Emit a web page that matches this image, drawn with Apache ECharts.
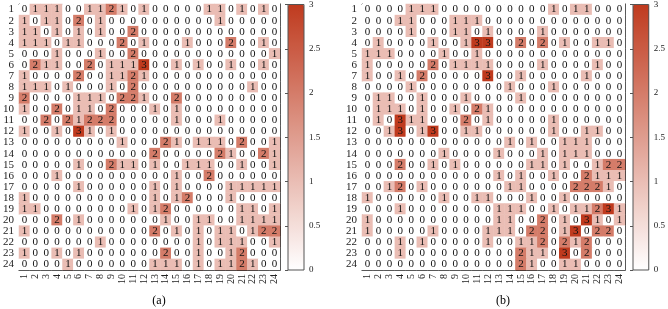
<!DOCTYPE html>
<html>
<head>
<meta charset="utf-8">
<script src="https://cdn.jsdelivr.net/npm/echarts@6/dist/echarts.min.js"></script>
<style>
  html, body { margin: 0; padding: 0; background: #fff; }
  #chart { width: 668px; height: 309px; }
</style>
</head>
<body>
<div id="chart"></div>
<script>
// tick labels for both axes of the two matrices
let cats = ['1','2','3','4','5','6','7','8','9','10','11','12','13','14','15','16','17','18','19','20','21','22','23','24'];

// (a) counts, row by row (row 1 at the top)
let countsA = [
    [0,1,1,1,0,0,1,1,2,1,0,1,0,0,0,0,0,1,1,0,1,0,1,0],
    [1,0,1,1,0,2,0,1,0,0,0,0,0,0,0,0,0,0,1,0,0,0,0,0],
    [1,1,0,1,0,1,0,1,0,0,2,0,0,0,0,0,0,0,0,0,0,0,0,0],
    [1,1,1,0,1,1,0,0,0,2,0,1,0,0,0,1,0,0,0,2,0,0,1,0],
    [0,0,0,1,0,0,0,1,0,0,2,0,0,0,0,0,0,0,0,0,0,0,0,1],
    [0,2,1,1,0,0,2,0,1,1,1,3,0,0,1,0,1,0,0,1,0,0,1,0],
    [1,0,0,0,0,2,0,0,1,1,2,1,0,0,0,0,0,0,0,0,0,0,0,0],
    [1,1,1,0,1,0,0,0,1,0,2,0,0,0,0,0,0,0,0,0,0,1,0,0],
    [2,0,0,0,0,1,1,1,0,2,2,1,0,0,2,0,0,0,0,0,0,0,0,0],
    [1,0,0,2,0,1,1,0,2,0,0,0,1,0,1,0,0,0,0,0,0,0,0,0],
    [0,0,2,0,2,1,2,2,2,0,0,0,0,0,1,0,0,0,1,0,0,0,0,0],
    [1,0,0,1,0,3,1,0,1,0,0,0,0,0,0,0,0,0,0,0,0,0,0,0],
    [0,0,0,0,0,0,0,0,0,1,0,0,0,2,1,0,1,1,1,0,2,0,0,1],
    [0,0,0,0,0,0,0,0,0,0,0,0,2,0,0,0,0,0,2,1,0,0,2,1],
    [0,0,0,0,0,1,0,0,2,1,1,0,1,0,0,1,1,1,0,0,1,0,0,1],
    [0,0,0,1,0,0,0,0,0,0,0,0,0,0,1,0,0,2,0,0,0,0,0,0],
    [0,0,0,0,0,1,0,0,0,0,0,0,1,0,1,0,0,0,0,1,1,1,1,1],
    [1,0,0,0,0,0,0,0,0,0,0,0,1,0,1,2,0,0,0,1,0,0,0,0],
    [1,1,0,0,0,0,0,0,0,0,1,0,1,2,0,0,0,0,0,0,1,1,0,1],
    [0,0,0,2,0,1,0,0,0,0,0,0,0,1,0,0,1,1,0,0,1,1,1,1],
    [1,0,0,0,0,0,0,0,0,0,0,0,2,0,1,0,1,0,1,1,0,1,2,2],
    [0,0,0,0,0,0,0,1,0,0,0,0,0,0,0,0,1,0,1,1,1,0,0,1],
    [1,0,0,1,0,1,0,0,0,0,0,0,0,2,0,0,1,0,0,1,2,0,0,0],
    [0,0,0,0,1,0,0,0,0,0,0,0,1,1,1,0,1,0,1,1,2,1,0,0]
];

// (b) counts
let countsB = [
    [0,0,0,0,1,1,1,0,0,0,0,0,0,0,0,0,0,1,0,1,1,0,0,0],
    [0,0,0,1,1,0,0,0,1,1,1,0,0,0,0,0,0,0,0,0,0,0,0,0],
    [0,0,0,0,1,0,0,0,1,1,0,1,0,0,0,0,1,0,0,0,0,0,0,0],
    [0,1,0,0,0,0,1,0,0,1,3,3,0,0,2,0,2,0,1,0,0,1,1,0],
    [1,1,1,0,0,0,0,1,0,0,1,0,0,0,0,0,0,0,0,0,0,0,0,0],
    [1,0,0,0,0,0,2,0,1,1,1,1,0,0,0,0,1,0,0,0,0,1,0,0],
    [1,0,0,1,0,2,0,0,0,0,0,3,0,0,1,0,0,0,0,0,1,0,0,0],
    [0,0,0,0,1,0,0,0,0,0,0,0,0,1,0,0,0,1,0,0,0,0,0,0],
    [0,1,1,0,0,1,0,0,0,1,0,0,0,0,1,0,0,0,0,0,0,0,0,0],
    [0,1,1,1,0,1,0,0,1,0,2,1,0,0,0,0,0,0,0,0,0,0,0,0],
    [0,1,0,3,1,1,0,0,0,2,0,1,0,0,0,0,0,1,0,0,0,0,0,0],
    [0,0,1,3,0,1,3,0,0,1,1,0,0,0,0,0,0,1,0,0,1,1,0,0],
    [0,0,0,0,0,0,0,0,0,0,0,0,0,1,0,1,0,0,1,1,1,0,0,0],
    [0,0,0,0,0,0,0,1,0,0,0,0,1,0,0,0,1,0,1,1,1,0,0,0],
    [0,0,0,2,0,0,1,0,1,0,0,0,0,0,0,1,1,0,1,0,0,1,2,2],
    [0,0,0,0,0,0,0,0,0,0,0,0,1,0,1,0,0,1,0,0,2,1,1,1],
    [0,0,1,2,0,1,0,0,0,0,0,0,0,1,1,0,0,0,0,2,2,2,1,0],
    [1,0,0,0,0,0,0,1,0,0,1,1,0,0,0,1,0,0,1,0,0,0,0,0],
    [0,0,0,1,0,0,0,0,0,0,0,0,1,1,1,0,0,1,0,1,1,2,3,1],
    [1,0,0,0,0,0,0,0,0,0,0,0,1,1,0,0,2,0,1,0,3,1,0,1],
    [1,0,0,0,0,0,1,0,0,0,0,1,1,1,0,2,2,0,1,3,0,2,2,0],
    [0,0,0,1,0,1,0,0,0,0,0,1,0,0,1,1,2,0,2,1,2,0,0,0],
    [0,0,0,1,0,0,0,0,0,0,0,0,0,0,2,1,1,0,3,0,2,0,0,0],
    [0,0,0,0,0,0,0,0,0,0,0,0,0,0,2,1,0,0,1,1,0,0,0,0]
];

let serif = 'Liberation Serif';
let ink = '#222';
let lowColor = '#ffffff';
let highColor = '#bf3a1e';

let toCells = rows => {
    let out = [];
    rows.forEach((row, r) => row.forEach((v, c) => out.push([c, r, v])));
    return out;
};

let mapLeft = [17, 362];      // left edge of each matrix
let barLeft = [288, 633];     // left edge of each colour bar
let gridTop = 4, side = 263, tall = 266;

let grids = [], xAxes = [], yAxes = [], series = [], visualMaps = [];

mapLeft.forEach((left, i) => {
    grids.push({ left: left, top: gridTop, width: side, height: tall });
    let base = {
        type: 'category', data: cats, gridIndex: i,
        axisLine: { show: true, lineStyle: { color: ink, width: 1 } },
        axisTick: { show: true, inside: true, alignWithLabel: true, interval: 0, length: 3, lineStyle: { color: ink } },
        splitLine: { show: false }, splitArea: { show: false }
    };
    xAxes.push(Object.assign({}, base, {
        position: 'bottom',
        axisLabel: { interval: 0, rotate: 90, fontSize: 10, fontFamily: serif, color: ink, margin: 4 }
    }));
    xAxes.push(Object.assign({}, base, { position: 'top', axisLabel: { show: false } }));
    yAxes.push(Object.assign({}, base, {
        position: 'left', inverse: true,
        axisLabel: { interval: 0, fontSize: 11, fontFamily: serif, color: ink, margin: 5 }
    }));
    yAxes.push(Object.assign({}, base, { position: 'right', inverse: true, axisLabel: { show: false } }));

    series.push({
        type: 'heatmap',
        xAxisIndex: i * 2,
        yAxisIndex: i * 2,
        data: toCells(i === 0 ? countsA : countsB),
        label: { show: true, fontSize: 11, fontFamily: serif, color: '#111',
                 formatter: p => p.value[2] },
        emphasis: { disabled: true }
    });
});

// colour bars: the visualMap draws the gradient, an axis grid draws frame and ticks
barLeft.forEach((left, i) => {
    let g = grids.length;
    grids.push({ left: left, top: gridTop, width: 16, height: tall, show: true,
                 borderColor: '#555', borderWidth: 1, backgroundColor: 'transparent', z: 10 });
    xAxes.push({ type: 'value', gridIndex: g, min: 0, max: 1, show: false });
    yAxes.push({
        type: 'value', gridIndex: g, min: 0, max: 3, interval: 0.5, position: 'right',
        axisLine: { show: false },
        axisTick: { show: true, inside: true, length: 3, lineStyle: { color: '#555' } },
        splitLine: { show: false },
        axisLabel: { fontSize: 9, fontFamily: serif, color: ink, margin: 5 }
    });
    visualMaps.push({
        type: 'continuous', min: 0, max: 3, seriesIndex: i,
        calculable: false, realtime: false,
        left: left, top: gridTop, itemWidth: 16, itemHeight: tall,
        padding: 0, text: null, showLabel: false,
        inRange: { color: [lowColor, highColor] }
    });
});

let chart = echarts.init(document.getElementById('chart'), null, { renderer: 'canvas' });
chart.setOption({
    animation: false,
    backgroundColor: '#fff',
    title: [
        { text: '(a)', left: 159, top: 295, textAlign: 'center', padding: 0,
          textStyle: { fontFamily: serif, fontSize: 12, fontWeight: 'normal', color: '#000' } },
        { text: '(b)', left: 503, top: 295, textAlign: 'center', padding: 0,
          textStyle: { fontFamily: serif, fontSize: 12, fontWeight: 'normal', color: '#000' } }
    ],
    grid: grids,
    xAxis: xAxes,
    yAxis: yAxes,
    visualMap: visualMaps,
    series: series
});
</script>
</body>
</html>
